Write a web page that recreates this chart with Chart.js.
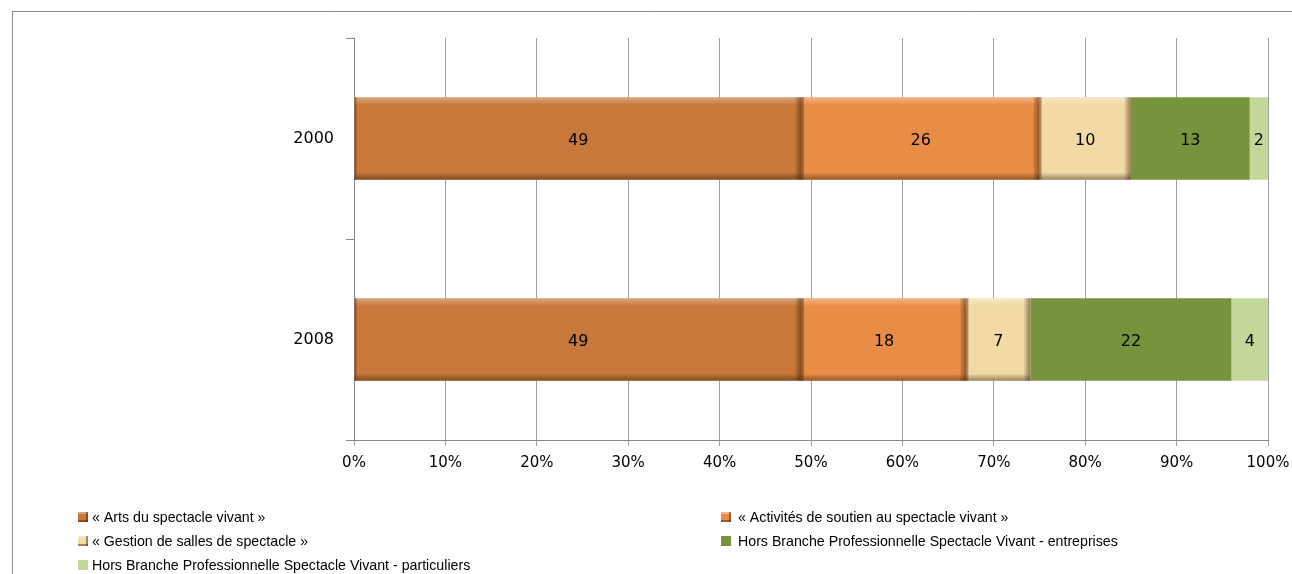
<!DOCTYPE html>
<html><head><meta charset="utf-8">
<script src="https://cdn.jsdelivr.net/npm/chart.js@4.4.1/dist/chart.umd.min.js"></script>
<style>html,body{margin:0;padding:0;background:#fff;overflow:hidden}#wrap{width:1292px;height:574px;position:relative}</style>
</head><body><div id="wrap"><canvas id="c" width="1292" height="574"></canvas></div>
<script>
// ---- data ----
const categories = ['2000', '2008'];
const seriesNames = [
  '\u00ab Arts du spectacle vivant \u00bb',
  '\u00ab Activit\u00e9s de soutien au spectacle vivant \u00bb',
  '\u00ab Gestion de salles de spectacle \u00bb',
  'Hors Branche Professionnelle Spectacle Vivant - entreprises',
  'Hors Branche Professionnelle Spectacle Vivant - particuliers'
];
const artsSpectacle = [49, 49];
const activitesSoutien = [26, 18];
const gestionSalles = [10, 7];
const horsBrancheEntreprises = [13, 22];
const horsBrancheParticuliers = [2, 4];
const xTickValues = [0, 10, 20, 30, 40, 50, 60, 70, 80, 90, 100];

const seriesValues = [artsSpectacle, activitesSoutien, gestionSalles, horsBrancheEntreprises, horsBrancheParticuliers];
const seriesColors = ['#C7783A', '#E98D46', '#F3DAA5', '#77933C', '#C4D79B'];
const bevelled = [true, true, true, false, false];

const TICK_FONT = {family: 'DejaVu Sans', size: 15};

const bevelPlugin = {
  id: 'bevel',
  afterDatasetsDraw(chart) {
    const ctx = chart.ctx;
    chart.data.datasets.forEach((ds, di) => {
      if (!bevelled[di]) return;
      const meta = chart.getDatasetMeta(di);
      meta.data.forEach(el => {
        const p = el.getProps(['x', 'y', 'base', 'height'], true);
        const x0 = Math.min(p.x, p.base), x1 = Math.max(p.x, p.base);
        const y0 = p.y - p.height / 2, y1 = p.y + p.height / 2;
        ctx.save();
        let g = ctx.createLinearGradient(0, y0, 0, y0 + 8);
        g.addColorStop(0, 'rgba(255,255,255,0.35)');
        g.addColorStop(1, 'rgba(255,255,255,0)');
        ctx.fillStyle = g;
        ctx.fillRect(x0, y0, x1 - x0, 8);
        g = ctx.createLinearGradient(0, y1 - 7, 0, y1);
        g.addColorStop(0, 'rgba(0,0,0,0)');
        g.addColorStop(1, 'rgba(60,30,0,0.45)');
        ctx.fillStyle = g;
        ctx.fillRect(x0, y1 - 7, x1 - x0, 7);
        g = ctx.createLinearGradient(x1 - 7, 0, x1, 0);
        g.addColorStop(0, 'rgba(0,0,0,0)');
        g.addColorStop(1, 'rgba(60,30,0,0.5)');
        ctx.fillStyle = g;
        ctx.fillRect(x1 - 7, y0, 7, y1 - y0);
        ctx.fillStyle = 'rgba(80,40,10,0.45)';
        ctx.fillRect(x0, y0, 2, y1 - y0);
        ctx.restore();
      });
    });
  }
};

const labelPlugin = {
  id: 'segLabels',
  afterDatasetsDraw(chart) {
    const ctx = chart.ctx;
    ctx.save();
    ctx.font = '16px "DejaVu Sans"';
    ctx.fillStyle = '#000';
    ctx.textAlign = 'center';
    ctx.textBaseline = 'middle';
    chart.data.datasets.forEach((ds, di) => {
      const meta = chart.getDatasetMeta(di);
      meta.data.forEach((el, i) => {
        const p = el.getProps(['x', 'y', 'base'], true);
        ctx.fillText(String(ds.data[i]), (p.x + p.base) / 2, p.y + 2);
      });
    });
    ctx.restore();
  }
};

const legendPlugin = {
  id: 'customLegend',
  afterDraw(chart) {
    const ctx = chart.ctx;
    const cols = [{box: 78, text: 92}, {box: 721, text: 738}];
    const rows = [517, 541, 565];
    ctx.save();
    ctx.font = '14.2px "Liberation Sans"';
    ctx.textBaseline = 'middle';
    ctx.textAlign = 'left';
    chart.data.datasets.forEach((ds, i) => {
      const c = cols[i % 2], r = rows[Math.floor(i / 2)];
      ctx.fillStyle = ds.backgroundColor;
      ctx.fillRect(c.box, r - 5, 10, 10);
      if (bevelled[i]) {
        ctx.fillStyle = 'rgba(255,255,255,0.35)';
        ctx.fillRect(c.box, r - 5, 10, 2);
        ctx.fillStyle = 'rgba(60,30,0,0.45)';
        ctx.fillRect(c.box, r + 3, 10, 2);
        ctx.fillRect(c.box + 8, r - 5, 2, 10);
      }
      ctx.fillStyle = '#000';
      ctx.fillText(ds.label, c.text, r + 1);
    });
    ctx.restore();
  }
};

const framePlugin = {
  id: 'frame',
  afterDraw(chart) {
    const ctx = chart.ctx;
    ctx.save();
    ctx.strokeStyle = '#8a8a8a';
    ctx.lineWidth = 1;
    ctx.beginPath();
    ctx.moveTo(12.5, 580);
    ctx.lineTo(12.5, 11.5);
    ctx.lineTo(1300, 11.5);
    ctx.stroke();
    ctx.restore();
  }
};

new Chart(document.getElementById('c'), {
  type: 'bar',
  data: {
    labels: categories,
    datasets: seriesValues.map((vals, i) => ({
      label: seriesNames[i],
      data: vals,
      backgroundColor: seriesColors[i],
      borderWidth: 0,
      categoryPercentage: 1,
      barPercentage: 0.41
    }))
  },
  options: {
    indexAxis: 'y',
    responsive: false,
    animation: false,
    devicePixelRatio: 1,
    layout: {padding: {left: 0, top: 38, right: 24, bottom: 0}},
    plugins: {legend: {display: false}, tooltip: {enabled: false}},
    scales: {
      x: {
        type: 'linear', stacked: true, min: 0, max: 100,
        afterBuildTicks(scale) { scale.ticks = xTickValues.map(v => ({value: v})); },
        afterFit(scale) { scale.height = 134; scale.paddingLeft = 0; scale.paddingRight = 0; },
        ticks: {callback: v => v + '%', font: TICK_FONT, color: '#000', padding: 8, maxRotation: 0, autoSkip: false},
        grid: {color: '#a0a0a0', tickLength: 6, lineWidth: 1},
        border: {color: '#8a8a8a'}
      },
      y: {
        type: 'category', stacked: true, offset: true,
        afterFit(scale) { scale.width = 354; scale.paddingTop = 0; scale.paddingBottom = 0; },
        ticks: {font: {family: 'DejaVu Sans', size: 16}, color: '#000', padding: 12},
        grid: {offset: true, drawOnChartArea: false, tickLength: 8, color: '#8a8a8a'},
        border: {color: '#8a8a8a'}
      }
    }
  },
  plugins: [bevelPlugin, labelPlugin, legendPlugin, framePlugin]
});
</script>
</body></html>
